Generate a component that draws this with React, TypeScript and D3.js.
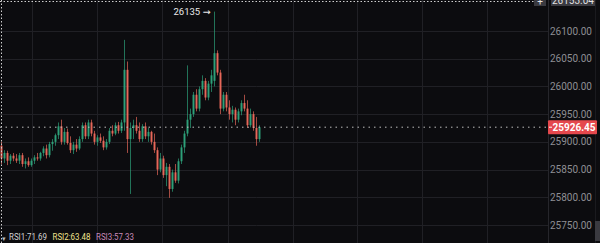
import React from "react";
import * as d3 from "d3";

const W = 600;
const H = 243;

// OHLC candles: [open, high, low, close]
const opens = [25893,25870,25880,25866,25875,25870,25866,25876,25860,25865,25858,25866,25872,25870,25880,25888,25876,25896,25900,25912,25928,25900,25918,25898,25885,25895,25888,25905,25930,25910,25935,25915,25900,25908,25902,25890,25900,25920,25915,25930,25920,25935,26030,25905,25925,25930,25920,25905,25928,25910,25918,25900,25885,25850,25870,25840,25855,25815,25845,25830,25865,25890,25915,25940,25950,25985,25960,25995,26010,25980,26005,26010,26060,26025,25960,25985,25962,25950,25958,25940,25955,25970,25960,25930,25950,25925,25905];
const highs = [25900,25885,25884,25878,25880,25878,25880,25880,25870,25872,25870,25876,25880,25882,25892,25895,25900,25905,25915,25935,25940,25925,25924,25910,25900,25905,25910,25935,25935,25940,25940,25920,25912,25915,25910,25905,25925,25930,25935,25936,25940,26084,26045,25935,25940,25945,25935,25932,25935,25925,25920,25915,25890,25880,25875,25862,25860,25850,25860,25870,25895,25920,26038,25960,25990,25995,26000,26020,26015,26010,26030,26135,26065,26030,25990,25990,25975,25965,25962,25960,25975,25985,25975,25960,25955,25945,25930];
const lows = [25860,25862,25858,25860,25865,25862,25860,25855,25852,25855,25855,25860,25866,25866,25874,25870,25872,25884,25893,25905,25895,25895,25895,25880,25878,25882,25885,25900,25905,25905,25910,25895,25893,25898,25885,25886,25896,25910,25912,25915,25916,25920,25880,25806,25905,25915,25900,25900,25905,25900,25895,25880,25840,25845,25835,25820,25799,25810,25826,25825,25860,25880,25910,25925,25945,25955,25955,25985,25975,25975,25990,26000,26020,25950,25955,25955,25940,25935,25930,25935,25948,25955,25925,25926,25920,25893,25900];
const closes = [25870,25880,25866,25875,25870,25866,25876,25860,25865,25858,25866,25872,25870,25880,25888,25876,25896,25900,25912,25928,25900,25918,25898,25885,25895,25888,25905,25930,25910,25935,25915,25900,25908,25902,25890,25900,25920,25915,25930,25920,25935,26030,25905,25925,25930,25920,25905,25928,25910,25918,25900,25885,25850,25870,25840,25855,25815,25845,25830,25865,25890,25915,25940,25950,25985,25960,25995,26010,25980,26005,26020,26060,26025,25960,25985,25962,25950,25958,25940,25955,25970,25960,25930,25950,25925,25905,25926.45];

const priceTicks = [26100, 26050, 26000, 25950, 25900, 25850, 25800, 25750];
const lastPrice = 25926.45;
const maxPrice = 26135;
const topLabel = "26153.04";
const rsiLabels = ["RSI1:71.69", "RSI2:63.48", "RSI3:57.33"];
const rsiColors = ["#d4d4d4", "#f2e48e", "#c98bb9"];
const vGridX = [32, 97, 162, 228, 293, 357, 422, 487];

const UP = "#2fa57c";
const DOWN = "#ee6a5c";

export default function App() {
  const n = opens.length;
  const x = d3.scaleLinear().domain([0, n - 1]).range([1.5, 259.5]);
  const y = d3.scaleLinear().domain([25750, 26100]).range([225, 31]);
  const axisX = 548;
  const font = "Roboto, 'DejaVu Sans', sans-serif";
  const maxIdx = highs.indexOf(d3.max(highs) as number);

  return (
    <div style={{ position: "fixed", left: 0, top: 0, width: W, height: H }}>
      <svg width={W} height={H} style={{ display: "block", background: "#0c0c0f" }}>
        {/* grid */}
        {priceTicks.map((p) => (
          <line key={"h" + p} x1={0} x2={axisX} y1={Math.round(y(p)) + 0.5} y2={Math.round(y(p)) + 0.5} stroke="#202025" />
        ))}
        {vGridX.map((gx) => (
          <line key={"v" + gx} x1={gx + 0.5} x2={gx + 0.5} y1={0} y2={H} stroke="#202025" />
        ))}
        <line x1={axisX + 0.5} x2={axisX + 0.5} y1={0} y2={H} stroke="#26262b" />
        <line x1={595.5} x2={595.5} y1={0} y2={H} stroke="#1a1a1e" />

        {/* candles */}
        {opens.map((o, i) => {
          const c = closes[i];
          const col = c >= o ? UP : DOWN;
          const cx = x(i);
          const yt = y(Math.max(o, c));
          const yb = y(Math.min(o, c));
          return (
            <g key={i}>
              <line x1={cx} x2={cx} y1={y(highs[i])} y2={y(lows[i])} stroke={col} strokeWidth={0.8} opacity={0.85} />
              <rect x={cx - 1} y={yt} width={2} height={Math.max(1, yb - yt)} fill={col} opacity={0.9} />
            </g>
          );
        })}

        {/* max annotation */}
        <text x={x(maxIdx) - 4} y={y(maxPrice) + 3} textAnchor="end" fill="#e8e8e8" fontSize={9.5} fontFamily={font}>
          {maxPrice + " →"}
        </text>

        {/* last price line */}
        <line x1={0} x2={axisX} y1={y(lastPrice)} y2={y(lastPrice)} stroke="#bdbdbd" strokeDasharray="1.5,4" />
        <rect x={axisX} y={y(lastPrice) - 7} width={49} height={14} fill="#e5484d" rx={1} />
        <line x1={axisX + 1} x2={axisX + 4} y1={y(lastPrice)} y2={y(lastPrice)} stroke="#ffffff" />
        <text x={axisX + 26} y={y(lastPrice) + 3.5} textAnchor="middle" fill="#ffffff" fontSize={10} fontWeight="bold" fontFamily={font}>
          {lastPrice.toFixed(2)}
        </text>

        {/* price axis labels */}
        {priceTicks.map((p) => (
          <text key={"t" + p} x={571} y={y(p) + 3.5} textAnchor="middle" fill="#8e8e93" fontSize={10} fontFamily={font}>
            {p.toFixed(2)}
          </text>
        ))}

        {/* top-right cut labels */}
        <rect x={534} y={-7} width={12} height={13} fill="#3a3a40" />
        <text x={540} y={5} textAnchor="middle" fill="#e0e0e0" fontSize={10} fontFamily={font}>+</text>
        <rect x={551} y={-7} width={44} height={13} fill="#3a3a40" />
        <text x={573} y={4} textAnchor="middle" fill="#e0e0e0" fontSize={10} fontFamily={font}>{topLabel}</text>

        {/* dotted selection frame */}
        <line x1={0} x2={534} y1={1.5} y2={1.5} stroke="#cfcfcf" strokeDasharray="1.5,2" />
        <line x1={1.5} x2={1.5} y1={0} y2={H} stroke="#cfcfcf" strokeDasharray="1.5,2" />

        {/* scroll handle */}
        <rect x={595} y={221} width={5} height={20} fill="#3a3a40" />

        {/* RSI legend */}
        <text x={2} y={241} fill="#bbbbbb" fontSize={7} fontFamily={font}>▾</text>
        {rsiLabels.map((t, i) => (
          <text key={t} x={9 + i * 43.5} y={239.5} fill={rsiColors[i]} fontSize={8.5} fontFamily={font} textLength={38} lengthAdjust="spacingAndGlyphs">
            {t}
          </text>
        ))}
      </svg>
    </div>
  );
}
